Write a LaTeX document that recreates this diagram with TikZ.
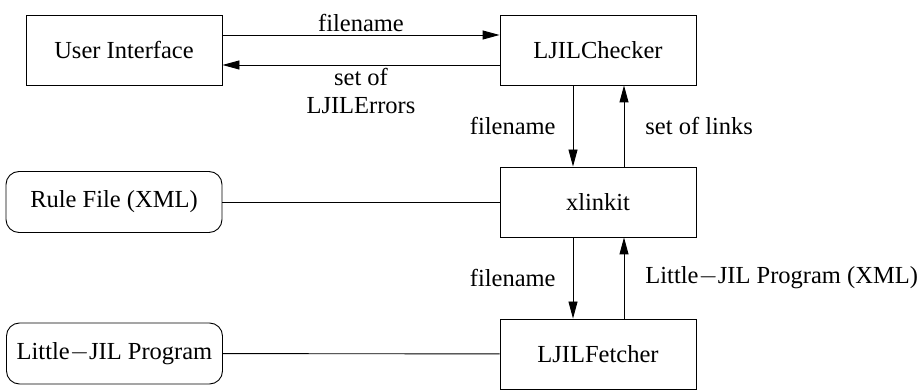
\documentclass[tikz,border=0pt]{standalone}
\usepackage{fontspec}
\setmainfont{LiberationSerif}[Extension=.ttf, UprightFont=*-Regular, BoldFont=*-Bold]
\usetikzlibrary{arrows.meta}

\tikzset{
  proc/.style={draw, minimum width=196pt, minimum height=70pt},
  datafile/.style={draw, rounded corners=13pt, minimum width=216pt, minimum height=61pt},
  flow/.style={-{Triangle[length=17pt,width=9pt]}},
  lbl/.style={inner sep=2pt, align=center}
}

\begin{document}
\begin{tikzpicture}[x=1pt, y=-1pt, line width=0.9pt,
    every node/.style={font=\rmfamily\fontsize{24.5}{28}\selectfont}]
				\useasboundingbox (0,0) rectangle (922,390);
				%draw components
				\node[proc] (ui) at (124,50) {User Interface};
				\node[proc] (chk) at (598,50) {LJILChecker};
				\node[proc] (xl) at (598,202) {xlinkit};
				\node[proc] (fetch) at (598,354) {LJILFetcher};
				%draw input files
				\node[datafile] (rules) at (114,202) {Rule File (XML)};
				\node[datafile] (prog) at (114.5,353.5) {Little$-$JIL Program};
				%draw messages between checker and interface
				\draw[flow] ([yshift=15pt]ui.east) -- ([yshift=15pt]chk.west)
					node[lbl, midway, above=1pt] {filename};
				\draw[flow] ([yshift=-15pt]chk.west) -- ([yshift=-15pt]ui.east)
					node[lbl, midway, below=1pt] {set of\\LJILErrors};
				%draw messages down the chain
				\draw[flow] ([xshift=-25pt]chk.south) -- ([xshift=-25pt]xl.north)
					node[lbl, midway, left=15pt] {filename};
				\draw[flow] ([xshift=26pt]xl.north) -- ([xshift=26pt]chk.south)
					node[lbl, midway, right=19pt] {set of links};
				\draw[flow] ([xshift=-25pt]xl.south) -- ([xshift=-25pt]fetch.north)
					node[lbl, midway, left=15pt] {filename};
				\draw[flow] ([xshift=26pt]fetch.north) -- ([xshift=26pt]xl.south)
					node[lbl, midway, right=19pt] {Little$-$JIL Program (XML)};
				%draw file links
				\draw (rules) -- (xl);
				\draw (prog) -- (fetch);
\end{tikzpicture}
\end{document}
